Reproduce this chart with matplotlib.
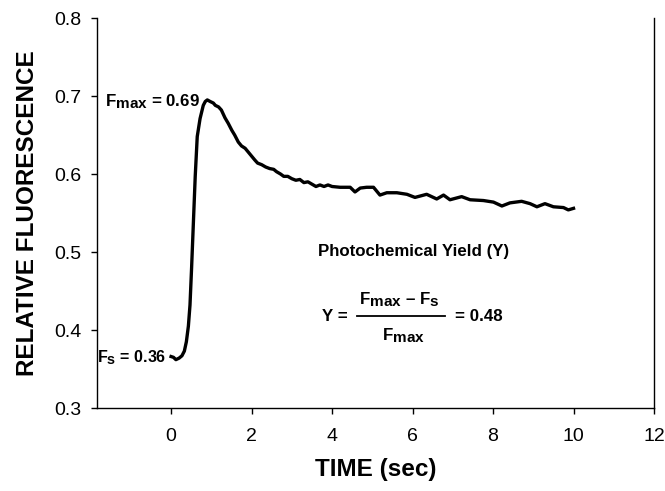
import matplotlib
matplotlib.use("Agg")
import matplotlib.pyplot as plt
import matplotlib._mathtext as _mt

_mt.SHRINK_FACTOR = 0.9

plt.rcParams['font.family'] = ['Liberation Sans', 'DejaVu Sans']
plt.rcParams['mathtext.fontset'] = 'custom'
plt.rcParams['mathtext.rm'] = 'Liberation Sans'
plt.rcParams['mathtext.bf'] = 'Liberation Sans:bold'
plt.rcParams['mathtext.it'] = 'Liberation Sans:italic'

# ---- data ----
time_s = [0.00, 0.06, 0.12, 0.20, 0.27, 0.33, 0.38, 0.43, 0.47, 0.51, 0.55, 0.60,
          0.65, 0.72, 0.80, 0.85, 0.90, 0.97, 1.05, 1.10, 1.18, 1.25, 1.34, 1.42,
          1.51, 1.58, 1.67, 1.75, 1.84, 1.92, 2.00, 2.08, 2.15, 2.25, 2.35, 2.45,
          2.55, 2.62, 2.72, 2.80, 2.90, 3.00, 3.10, 3.20, 3.30, 3.40, 3.50, 3.60,
          3.70, 3.80, 3.90, 4.00, 4.20, 4.45, 4.57, 4.70, 4.86, 5.03, 5.19, 5.36,
          5.61, 5.86, 6.06, 6.35, 6.60, 6.77, 6.93, 7.22, 7.43, 7.76, 8.01, 8.22,
          8.42, 8.71, 8.92, 9.09, 9.29, 9.50, 9.75, 9.87, 10.00]
fluor = [0.366, 0.365, 0.362, 0.364, 0.367, 0.373, 0.385, 0.405, 0.432, 0.480, 0.532, 0.597,
         0.648, 0.671, 0.688, 0.693, 0.695, 0.693, 0.691, 0.688, 0.686, 0.682, 0.672, 0.665,
         0.656, 0.650, 0.641, 0.636, 0.633, 0.628, 0.623, 0.618, 0.614, 0.612, 0.609, 0.607,
         0.606, 0.603, 0.600, 0.597, 0.597, 0.594, 0.592, 0.593, 0.589, 0.590, 0.587, 0.584,
         0.586, 0.584, 0.586, 0.584, 0.583, 0.583, 0.577, 0.582, 0.583, 0.583, 0.573, 0.576,
         0.576, 0.574, 0.570, 0.574, 0.568, 0.573, 0.567, 0.571, 0.567, 0.566, 0.564, 0.559,
         0.563, 0.565, 0.562, 0.558, 0.562, 0.558, 0.557, 0.554, 0.556]

x_ticks = [0, 2, 4, 6, 8, 10, 12]
y_ticks = [0.3, 0.4, 0.5, 0.6, 0.7, 0.8]
y_tick_labels = ['0.3', '0.4', '0.5', '0.6', '0.7', '0.8']

fmax_label = r'$\mathbf{F_{max}}$ = 0.69'
fs_label = r'$\mathbf{F_{s}}$ = 0.36'
yield_title = 'Photochemical Yield (Y)'
eq_num = r'$\mathbf{F_{max}}$ – $\mathbf{F_{s}}$'
eq_den = r'$\mathbf{F_{max}}$'

fig = plt.figure(figsize=(6.65, 4.91), dpi=100)
ax = fig.add_axes([0.1459, 0.169, 0.8376, 0.7943])

ax.plot(time_s, fluor, color='black', lw=2.4, solid_joinstyle='round')

ax.set_xlim(-1.84, 12)
ax.set_ylim(0.3, 0.8)
ax.set_xticks(x_ticks)
ax.set_yticks(y_ticks)
ax.set_yticklabels(y_tick_labels)
ax.tick_params(axis='both', direction='out', length=4.5, width=1.0, labelsize=14)
ax.tick_params(axis='x', pad=10)
ax.tick_params(axis='y', pad=7)
ax.spines['top'].set_visible(False)
for s in ['left', 'bottom', 'right']:
    ax.spines[s].set_linewidth(1.0)

ax.set_xlabel('TIME (sec)', fontsize=17.5, fontweight='bold', labelpad=9)
ax.set_ylabel('RELATIVE FLUORESCENCE', fontsize=17.5, fontweight='bold', labelpad=11)

tfs = 12.2
ax.text(0.72, 0.687, fmax_label, ha='right', va='baseline', fontsize=tfs, fontweight='bold')
ax.text(-0.11, 0.359, fs_label, ha='right', va='baseline', fontsize=11.5, fontweight='bold')
ax.text(6.02, 0.495, yield_title, ha='center', va='baseline', fontsize=tfs, fontweight='bold')
ax.text(3.75, 0.411, 'Y =', ha='left', va='baseline', fontsize=tfs, fontweight='bold')
ax.text(5.66, 0.433, eq_num, ha='center', va='baseline', fontsize=tfs, fontweight='bold')
ax.plot([4.62, 6.81], [0.418, 0.418], color='black', lw=1.3)
ax.text(5.78, 0.387, eq_den, ha='center', va='baseline', fontsize=tfs, fontweight='bold')
ax.text(7.06, 0.411, '= 0.48', ha='left', va='baseline', fontsize=tfs, fontweight='bold')

fig.savefig('out.png', dpi=100)
